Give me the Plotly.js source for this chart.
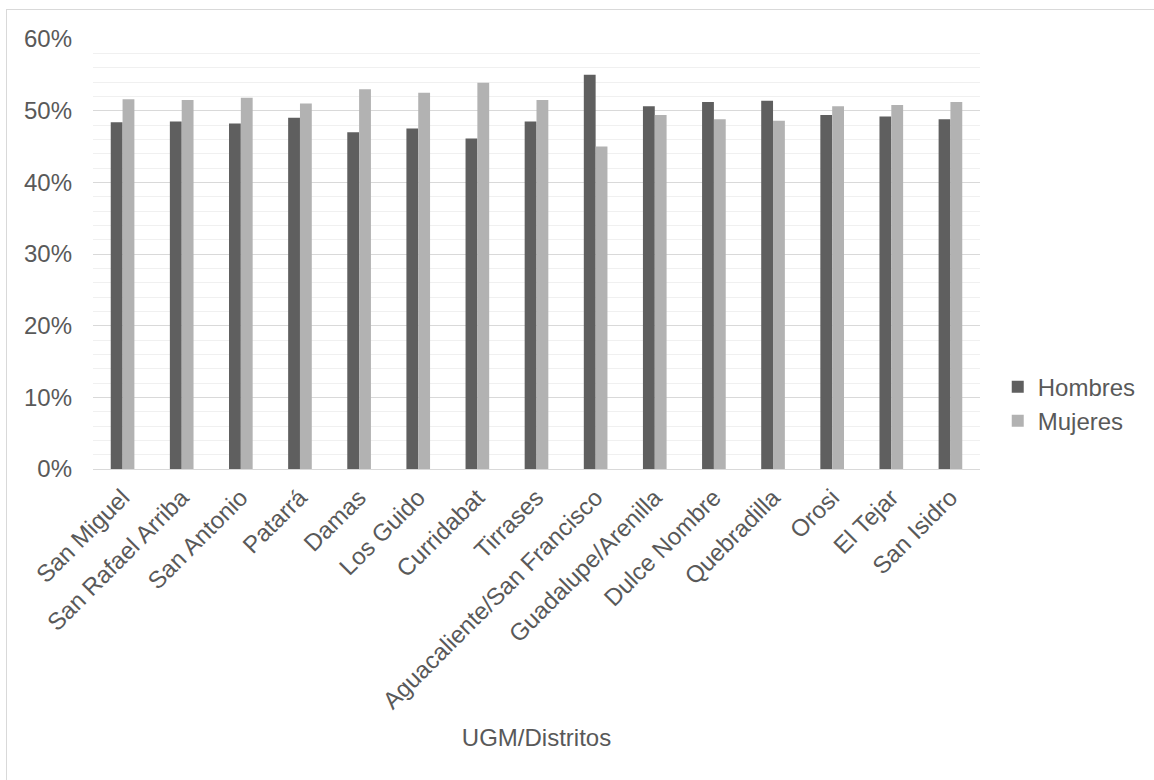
<!DOCTYPE html>
<html>
<head>
<meta charset="utf-8">
<script src="https://cdn.plot.ly/plotly-3.0.1.min.js"></script>
<style>
html,body{margin:0;padding:0;background:#fff;overflow:hidden;}
#frame{position:absolute;left:6px;top:9px;width:1170px;height:800px;border:1px solid #d9d9d9;box-sizing:border-box;pointer-events:none;}
#chart{width:1154px;height:780px;}
</style>
</head>
<body>
<div id="chart"></div>
<div id="frame"></div>
<script>
const categories = ["San Miguel","San Rafael Arriba","San Antonio","Patarrá","Damas","Los Guido","Curridabat","Tirrases","Aguacaliente/San Francisco","Guadalupe/Arenilla","Dulce Nombre","Quebradilla","Orosi","El Tejar","San Isidro"];
const hombres = [0.484,0.485,0.482,0.490,0.470,0.475,0.461,0.485,0.550,0.506,0.512,0.514,0.494,0.492,0.488];
const mujeres = [0.516,0.515,0.518,0.510,0.530,0.525,0.539,0.515,0.450,0.494,0.488,0.486,0.506,0.508,0.512];
const seriesNames = ["Hombres","Mujeres"];
const yTicks = [0,0.1,0.2,0.3,0.4,0.5,0.6];
const yTickLabels = ["0%","10%","20%","30%","40%","50%","60%"];

const font = {family:"Liberation Sans, Arial, sans-serif", size:24, color:"#595959"};
const data = [
  {type:"bar", name:seriesNames[0], x:categories, y:hombres, marker:{color:"#5f5f5f", line:{width:0}}, hoverinfo:"none"},
  {type:"bar", name:seriesNames[1], x:categories, y:mujeres, marker:{color:"#b2b2b2", line:{width:0}}, hoverinfo:"none"}
];
const layout = {
  width:1154, height:780,
  margin:{l:93, r:174, t:39, b:311},
  paper_bgcolor:"#ffffff", plot_bgcolor:"#ffffff",
  font:font,
  barmode:"group", bargap:0.6, bargroupgap:0,
  showlegend:true,
  legend:{x:1.02, xanchor:"left", y:0.151, yanchor:"middle", font:font, bgcolor:"rgba(0,0,0,0)", itemwidth:30, tracegroupgap:0},
  xaxis:{
    type:"category", tickangle:-45, tickfont:font, showgrid:false,
    showline:true, linecolor:"#d9d9d9", linewidth:1, ticks:"", ticklen:0, ticklabelstandoff:4,
    title:{text:"UGM/Distritos", font:{family:font.family, size:24, color:"#595959"}, standoff:16},
    automargin:false
  },
  yaxis:{
    range:[0,0.6], tickvals:yTicks, ticktext:yTickLabels, tickfont:font,
    showgrid:true, gridcolor:"#d9d9d9", gridwidth:1, ticklabelstandoff:20,
    zeroline:false, showline:false, ticks:"",
    minor:{dtick:0.02, showgrid:true, gridcolor:"#f0f0f0", gridwidth:1},
    automargin:false
  }
};
Plotly.newPlot("chart", data, layout, {displayModeBar:false, staticPlot:true});
</script>
</body>
</html>
